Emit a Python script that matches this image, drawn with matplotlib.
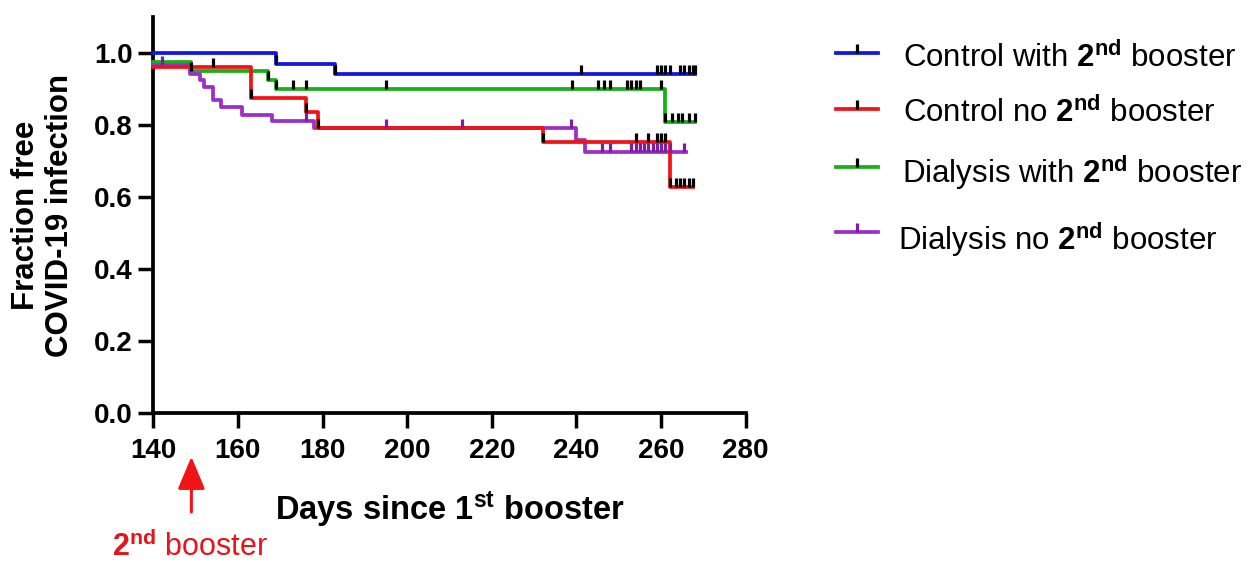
import matplotlib
matplotlib.use("Agg")
from matplotlib import pyplot as plt
from matplotlib.lines import Line2D

plt.rcParams["font.family"] = ["Liberation Sans", "DejaVu Sans"]
plt.rcParams["mathtext.fontset"] = "custom"
plt.rcParams["mathtext.rm"] = "Liberation Sans"
plt.rcParams["mathtext.bf"] = "Liberation Sans:bold"
plt.rcParams["mathtext.it"] = "Liberation Sans:italic"

# Kaplan-Meier step curves (day, fraction free)
ctrl_boost_t = [140, 169, 183, 268]
ctrl_boost_s = [1.0, 0.970, 0.940, 0.940]
ctrl_boost_cens_t = [169, 183, 241, 259, 260, 261, 262, 264.5, 265.5, 266.5, 267.5, 268]
ctrl_boost_cens_s = [0.970, 0.940, 0.940, 0.940, 0.940, 0.940, 0.940, 0.940, 0.940, 0.940, 0.940, 0.940]

ctrl_no_t = [140, 163, 176, 179, 232, 262, 267.5]
ctrl_no_s = [0.961, 0.875, 0.835, 0.792, 0.752, 0.627, 0.627]
ctrl_no_cens_t = [154, 163, 176, 179, 232, 254, 257, 259, 260, 261,
                  262, 263.5, 264.5, 265.5, 266.5, 267.5]
ctrl_no_cens_s = [0.961, 0.875, 0.835, 0.792, 0.752, 0.752, 0.752, 0.752, 0.752, 0.752,
                  0.627, 0.627, 0.627, 0.627, 0.627, 0.627]

dial_boost_t = [140, 149, 167, 169, 261, 268]
dial_boost_s = [0.974, 0.949, 0.923, 0.898, 0.807, 0.807]
dial_boost_cens_t = [149, 167, 169, 173, 176, 195, 239, 245, 246.5, 248, 252, 253, 254, 255, 260,
                     261, 262.5, 264, 265, 266.5, 268]
dial_boost_cens_s = [0.949, 0.923, 0.898, 0.898, 0.898, 0.898, 0.898, 0.898, 0.898, 0.898,
                     0.898, 0.898, 0.898, 0.898, 0.898,
                     0.807, 0.807, 0.807, 0.807, 0.807, 0.807]

dial_no_t = [140, 148.7, 151, 152, 154, 156, 161, 168, 178, 240, 242, 266]
dial_no_s = [0.965, 0.942, 0.923, 0.905, 0.868, 0.848, 0.828, 0.810, 0.791, 0.757, 0.724, 0.724]
dial_no_cens_t = [142, 176, 195, 213, 238.6, 246, 248, 253, 254, 255, 256, 257, 258, 259,
                  260, 261, 262, 265.5]
dial_no_cens_s = [0.965, 0.810, 0.791, 0.791, 0.791, 0.724, 0.724, 0.724, 0.724, 0.724,
                  0.724, 0.724, 0.724, 0.724, 0.724, 0.724, 0.724, 0.724]

booster_day = 149

labels = [r"Control with $\mathbf{2^{nd}}$ booster",
          r"Control no $\mathbf{2^{nd}}$ booster",
          r"Dialysis with $\mathbf{2^{nd}}$ booster",
          r"Dialysis no $\mathbf{2^{nd}}$ booster"]
colors = ["#1414e6", "#f01418", "#18b018", "#9b2fc8"]
tick_colors = ["black", "black", "black", "#7a1fa0"]

fig = plt.figure(figsize=(12.56, 5.63), dpi=100)
ax = fig.add_axes([153.3 / 1256, 1 - 412.7 / 563, 592.4 / 1256, 396 / 563])

tick_mark = [(0, 0), (0, 1)]  # censor tick pointing up from the curve

groups = [
    (ctrl_boost_t, ctrl_boost_s, ctrl_boost_cens_t, ctrl_boost_cens_s),
    (dial_boost_t, dial_boost_s, dial_boost_cens_t, dial_boost_cens_s),
    (dial_no_t, dial_no_s, dial_no_cens_t, dial_no_cens_s),
    (ctrl_no_t, ctrl_no_s, ctrl_no_cens_t, ctrl_no_cens_s),
]
order = [0, 2, 3, 1]
for (t, s, ct, cs), i in zip(groups, order):
    ax.step(t, s, where="post", color=colors[i], lw=2.7, clip_on=False, zorder=3)
    ax.plot(ct, cs, ls="none", marker=tick_mark, ms=13, mew=2.3,
            color=tick_colors[i], clip_on=False, zorder=4)

ax.set_xlim(140, 280)
ax.set_ylim(0, 1.1)
ax.set_xticks(range(140, 281, 20))
ax.set_yticks([0, 0.2, 0.4, 0.6, 0.8, 1.0])
ax.set_yticklabels(["0.0", "0.2", "0.4", "0.6", "0.8", "1.0"])
for sp in ["top", "right"]:
    ax.spines[sp].set_visible(False)
for sp in ["left", "bottom"]:
    ax.spines[sp].set_linewidth(2.7)
ax.tick_params(axis="both", length=11, width=2.5, labelsize=20)
ax.tick_params(axis="x", pad=7)
ax.tick_params(axis="y", pad=4)
for lab in ax.get_xticklabels() + ax.get_yticklabels():
    lab.set_fontweight("bold")

fig.text(43 / 1256, 1 - 215 / 563, "Fraction free\nCOVID-19 infection", rotation=90,
         ha="center", va="center", fontsize=22.5, fontweight="bold", linespacing=1.15)
fig.text(450 / 1256, 1 - 520 / 563, r"Days since $\mathbf{1^{st}}$ booster",
         ha="center", va="baseline", fontsize=23.5, fontweight="bold")

# red arrow marking the 2nd booster
ax.annotate("", xy=(booster_day, 563 - 456.7), xycoords=("data", "figure pixels"),
            xytext=(booster_day, 563 - 512), textcoords=("data", "figure pixels"),
            arrowprops=dict(arrowstyle="-|>,head_length=1.0,head_width=0.42",
                            mutation_scale=20, color="#f01418", lw=2.2,
                            shrinkA=0, shrinkB=0))
fig.text(111.7 / 1256, 1 - 556 / 563, r"$\mathbf{2^{nd}}$ booster", color="#e8141c",
         ha="left", va="baseline", fontsize=22)

# legend drawn by hand
handle_y = [53.3, 109, 166.7, 231.7]
text_y = [67, 122, 183, 250]
text_x = [903, 903, 901.5, 898]
for i in range(4):
    yf = 1 - handle_y[i] / 563
    fig.add_artist(Line2D([836 / 1256, 878 / 1256], [yf, yf], color=colors[i], lw=2.7,
                          transform=fig.transFigure))
    fig.add_artist(Line2D([857 / 1256], [yf], ls="none", marker=tick_mark, ms=13, mew=2.3,
                          color=tick_colors[i], transform=fig.transFigure))
    fig.text(text_x[i] / 1256, 1 - text_y[i] / 563, labels[i], ha="left", va="baseline",
             fontsize=22.5)

plt.savefig("out.png", dpi=100)
